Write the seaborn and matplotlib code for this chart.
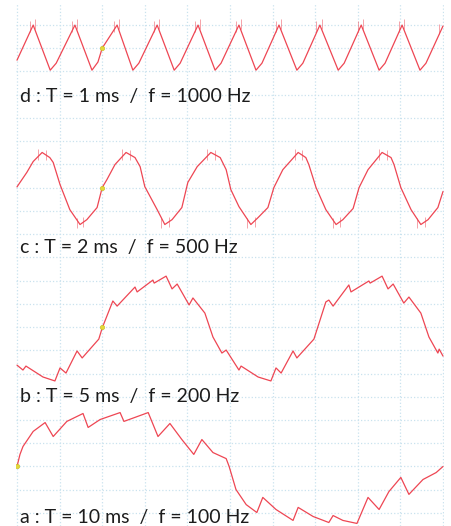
import pandas as pd
import seaborn as sns
import matplotlib.pyplot as plt

# time in grid divisions, value in grid rows around the trace centre
d_t = [0, 0.38, 0.78, 0.92, 1.36, 1.76, 1.90, 2.00, 2.35, 2.72, 2.86, 3.29, 3.69, 3.83,
       4.25, 4.65, 4.79, 5.21, 5.61, 5.75, 6.15, 6.57, 6.71, 7.11, 7.54, 7.68, 8.08,
       8.50, 8.64, 9.04, 9.46, 9.60, 10.0]
d_v = [-0.52, 0.99, -0.95, -0.65, 0.99, -0.95, -0.60, 0.0, 0.99, -0.95, -0.65, 0.99, -0.95, -0.65,
       0.99, -0.95, -0.65, 0.99, -0.95, -0.65, 0.99, -0.95, -0.65, 0.99, -0.95, -0.65, 0.99,
       -0.95, -0.65, 0.99, -0.95, -0.65, 0.95]

c_t = [0, 0.23, 0.38, 0.59, 0.77, 0.85, 1.01, 1.24, 1.48, 1.64, 1.88, 2.00, 2.11, 2.30,
       2.56, 2.77, 2.89, 3.00, 3.29, 3.47, 3.64, 3.87, 4.01, 4.23, 4.55, 4.77, 4.91, 5.02,
       5.21, 5.49, 5.66, 5.89, 6.03, 6.24, 6.60, 6.78, 6.85, 7.02, 7.25, 7.49, 7.65, 7.89,
       8.03, 8.24, 8.57, 8.78, 8.85, 9.01, 9.25, 9.48, 9.65, 9.88, 10.0]
c_v = [0.03, 0.65, 1.12, 1.51, 1.29, 1.08, 0.13, -0.95, -1.59, -1.38, -0.86, 0.0, 0.34, 0.99,
       1.51, 1.29, 0.90, 0.04, -0.95, -1.59, -1.38, -0.86, 0.22, 0.90, 1.51, 1.29, 0.77, -0.09,
       -0.82, -1.59, -1.29, -0.86, 0.0, 0.77, 1.51, 1.29, 0.99, 0.0, -0.95, -1.59, -1.38, -0.90,
       0.0, 0.77, 1.51, 1.29, 0.99, 0.0, -0.95, -1.59, -1.38, -0.86, -0.17]

b_t = [0, 0.14, 0.21, 0.61, 0.89, 1.01, 1.15, 1.41, 1.53, 1.92, 2.00, 2.25, 2.35, 2.77,
       2.82, 3.19, 3.22, 3.50, 3.64, 3.76, 4.04, 4.13, 4.41, 4.60, 4.81, 4.91, 5.21, 5.26,
       5.66, 5.96, 6.08, 6.20, 6.48, 6.57, 6.97, 7.25, 7.32, 7.42, 7.79, 7.84, 8.26, 8.29,
       8.57, 8.71, 8.83, 9.08, 9.20, 9.48, 9.67, 9.88, 9.91, 10.0]
b_v = [-1.64, -1.85, -1.68, -2.15, -2.32, -1.76, -1.98, -1.03, -1.33, -0.52, -0.04, 1.12, 0.90, 1.72,
       1.51, 2.02, 1.89, 2.19, 1.64, 1.85, 0.95, 1.25, 0.60, -0.43, -1.12, -0.99, -1.85, -1.68,
       -2.15, -2.32, -1.76, -1.98, -1.03, -1.33, -0.52, 1.08, 1.16, 0.90, 1.81, 1.51, 1.98, 1.89,
       2.19, 1.64, 1.85, 1.03, 1.29, 0.60, -0.43, -1.12, -0.95, -1.25]

a_t = [0, 0.07, 0.14, 0.38, 0.66, 0.85, 1.17, 1.55, 1.67, 1.95, 2.42, 2.51, 3.08, 3.31,
       3.59, 3.87, 4.15, 4.34, 4.60, 4.91, 4.98, 5.14, 5.38, 5.63, 5.77, 6.08, 6.48, 6.60,
       6.95, 7.32, 7.42, 7.65, 7.98, 8.24, 8.50, 8.73, 9.01, 9.20, 9.53, 9.84, 10.0]
a_v = [0, 0.52, 0.86, 1.51, 1.89, 1.29, 1.94, 2.28, 1.68, 2.02, 2.32, 1.94, 2.32, 1.29,
       1.85, 1.16, 0.52, 1.16, 0.60, 0.34, 0, -0.99, -1.64, -1.98, -1.33, -1.85, -2.32, -1.76,
       -2.15, -2.41, -2.11, -2.32, -2.45, -1.33, -1.85, -1.08, -0.47, -1.20, -0.56, -0.26, 0]

# short glitch spikes seen on the fast traces (d near peaks, c near peaks and troughs)
d_spike_t = [0.30, 0.42, 1.28, 1.40, 2.27, 2.39, 3.21, 3.33, 4.17, 4.29,
             5.13, 5.25, 6.07, 6.19, 7.03, 7.15, 8.00, 8.12, 8.96, 9.08, 9.90]
d_spike_lo = [0.70, 0.80, 0.70, 0.80, 0.70, 0.80, 0.70, 0.80, 0.70, 0.80,
              0.70, 0.80, 0.70, 0.80, 0.70, 0.80, 0.70, 0.80, 0.70, 0.80, 0.60]
d_spike_hi = [1.15, 1.25, 1.15, 1.25, 1.15, 1.25, 1.15, 1.25, 1.15, 1.25,
              1.15, 1.25, 1.15, 1.25, 1.15, 1.25, 1.15, 1.25, 1.15, 1.25, 1.05]
c_spike_t = [0.50, 0.68, 1.40, 1.56, 2.47, 2.66, 3.39, 3.56, 4.46, 4.65,
             5.40, 5.58, 6.52, 6.70, 7.41, 7.58, 8.49, 8.68, 9.40, 9.57]
c_spike_lo = [1.20, 1.20, -1.75, -1.70, 1.20, 1.20, -1.75, -1.70, 1.20, 1.20,
              -1.75, -1.70, 1.20, 1.20, -1.75, -1.70, 1.20, 1.20, -1.75, -1.70]
c_spike_hi = [1.65, 1.60, -1.30, -1.25, 1.65, 1.60, -1.30, -1.25, 1.65, 1.60,
              -1.30, -1.25, 1.65, 1.60, -1.30, -1.25, 1.65, 1.60, -1.30, -1.25]

labels = ["d : T = 1 ms  /  f = 1000 Hz",
          "c : T = 2 ms  /  f = 500 Hz",
          "b : T = 5 ms  /  f = 200 Hz",
          "a : T = 10 ms  /  f = 100 Hz"]
dot_t = [2.0, 2.0, 2.0, 0.0]
dot_v = [0.0, 0.0, 0.0, 0.0]

sns.set_style("white")
plt.rcParams['font.family'] = ['Lato', 'DejaVu Sans']

red = '#ee4653'
fig = plt.figure(figsize=(4.52, 5.26), dpi=100)
ax = fig.add_axes([16 / 452, 0, 428 / 452, 523 / 526])

centres = [20, 14, 8, 2]
baselines = [17.69, 11.19, 4.78, -0.43]
traces = [(d_t, d_v), (c_t, c_v), (b_t, b_v), (a_t, a_v)]

for (t, v), c0, lab, base, dt_, dv_ in zip(traces, centres, labels, baselines, dot_t, dot_v):
    df = pd.DataFrame({'t': t, 'v': [x + c0 for x in v]})
    sns.lineplot(data=df, x='t', y='v', ax=ax, color=red, lw=0.9,
                 sort=False, estimator=None)
    ax.scatter([dt_], [dv_ + c0], s=10, color='#e3d93a', edgecolor='#c8b820',
               linewidth=0.4, zorder=5)
    ax.text(0.07, base, lab, fontsize=14, color='#1c1c1c', va='baseline', ha='left')

ax.vlines(d_spike_t, [x + 20 for x in d_spike_lo], [x + 20 for x in d_spike_hi],
          color=red, lw=0.7, alpha=0.5)
ax.vlines(c_spike_t, [x + 14 for x in c_spike_lo], [x + 14 for x in c_spike_hi],
          color=red, lw=0.7, alpha=0.5)

ax.set_xlim(-1 / 42.6, 10 + 1 / 42.6)
ax.set_ylim(-0.56, 21.94)
ax.set_xticks(range(11))
ax.set_yticks(range(22))
ax.grid(True, color='#c9e2ee', linestyle=':', linewidth=0.9)
ax.tick_params(length=0, labelbottom=False, labelleft=False)
ax.set_xlabel('')
ax.set_ylabel('')
for s in ax.spines.values():
    s.set_visible(False)

fig.savefig('out.png', dpi=100)
